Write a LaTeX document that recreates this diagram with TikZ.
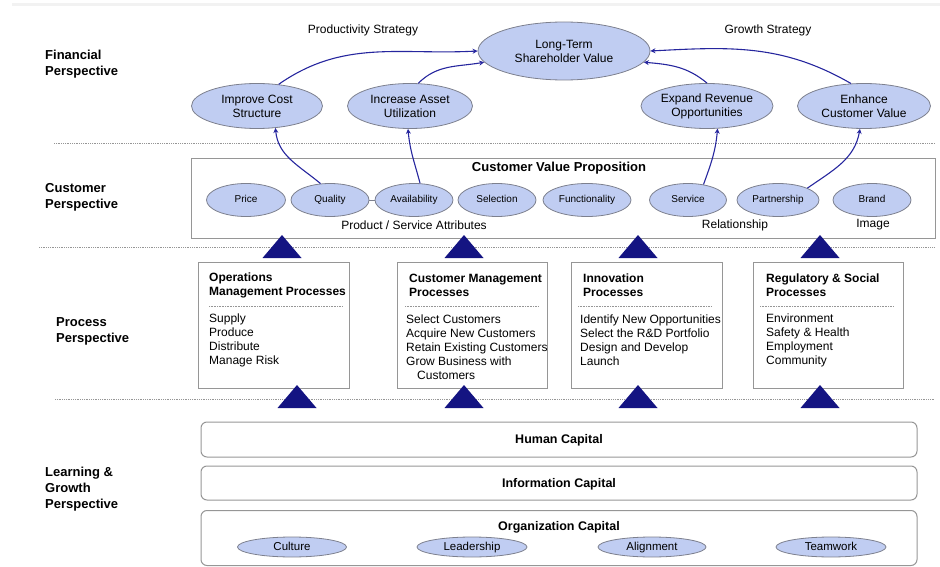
\documentclass[tikz,border=0pt]{standalone}
\usepackage{fontspec}
\setmainfont{Liberation Sans}
\usetikzlibrary{positioning, arrows.meta, shapes.geometric}
\definecolor{navy}{RGB}{20,20,130}
\definecolor{flowblue}{RGB}{38,38,158}
\definecolor{bubble}{RGB}{192,205,242}
\definecolor{rim}{RGB}{125,128,142}
\definecolor{boxgray}{RGB}{150,150,150}
\tikzset{
    x=1pt, y=-1pt, % one unit per pixel, downwards
    >=Stealth, % small solid arrowheads
    flow/.style={->, flowblue, line width=1.1pt, >={Stealth[length=5pt,width=5pt]}}, % cause-effect links
    goal/.style={ellipse, draw=rim, fill=bubble, line width=0.8pt, inner sep=0pt, align=center, font=\fontsize{12}{14}\selectfont},
    attr/.style={ellipse, draw=rim, fill=bubble, line width=0.8pt, inner sep=0pt, minimum height=33, text height=7.5pt, text depth=2.5pt, font=\fontsize{10}{12}\selectfont},
    asset/.style={ellipse, draw=rim, fill=bubble, line width=0.8pt, inner sep=0pt, minimum width=109, minimum height=20, text height=8.5pt, text depth=2.5pt, font=\fontsize{11.5}{13}\selectfont},
    panel/.style={rectangle, draw=boxgray, line width=1pt, inner sep=0pt},
    capital/.style={panel, rounded corners=6pt, minimum width=716},
    perspective/.style={anchor=west, inner sep=0pt, align=left, font=\bfseries\fontsize{13}{16}\selectfont},
    headline/.style={anchor=west, inner sep=0pt, align=left, font=\bfseries\fontsize{12}{14}\selectfont},
    listing/.style={anchor=west, inner sep=0pt, align=left, font=\fontsize{12}{14}\selectfont},
    plain/.style={inner sep=0pt, font=\fontsize{12}{14}\selectfont},
    sep/.style={boxgray, densely dotted, line width=0.8pt}, % dotted dividers
}
\begin{document}
\begin{tikzpicture}
    \useasboundingbox (0,0) rectangle (940,567);
    \draw[gray!10, line width=3pt] (12,5) -- (940,5);

    % perspective labels
    \node[perspective] (fin) at (45,64.5) {Financial\\Perspective};
    \node[perspective] (cus) at (45,197.5) {Customer\\Perspective};
    \node[perspective] (pro) at (56,331) {Process\\Perspective};
    \node[perspective] (lrn) at (45,489.5) {Learning \&\\Growth\\Perspective};

    % dividers
    \draw[sep] (54,143) -- (935,143);
    \draw[sep] (39,247) -- (935,247);
    \draw[sep] (55,399) -- (935,399);

    % financial goals
    \node[plain] (prod) at (363,30) {Productivity Strategy};
    \node[plain] (grow) at (768,30) {Growth Strategy};
    \node[goal, minimum width=172, minimum height=58] (ltv) at (564,51) {Long-Term\\Shareholder Value};
    \node[goal, minimum width=131, minimum height=45] (cost) at (257,106) {Improve Cost\\Structure};
    \node[goal, minimum width=125, minimum height=45] (util) at (410,106) {Increase Asset\\Utilization};
    \node[goal, minimum width=132, minimum height=45] (rev) at (707,106) {Expand Revenue\\Opportunities};
    \node[goal, minimum width=133, minimum height=45] (cval) at (864,106) {Enhance\\Customer Value};

    % customer value proposition
    \node[panel, minimum width=744, minimum height=79] (cvp) at (563,198.5) {};
    \node[plain, font=\bfseries\fontsize{13}{15}\selectfont] (cvptitle) at (559,168) {Customer Value Proposition};
    \node[attr, minimum width=79] (price) at (246,200) {Price};
    \node[attr, minimum width=78] (quality) at (330,200) {Quality};
    \node[attr, minimum width=78] (avail) at (414,200) {Availability};
    \node[attr, minimum width=78] (select) at (497,200) {Selection};
    \node[attr, minimum width=88] (funct) at (587,200) {Functionality};
    \node[attr, minimum width=77] (service) at (688,200) {Service};
    \node[attr, minimum width=82] (partner) at (778,200) {Partnership};
    \node[attr, minimum width=78] (brand) at (872,200) {Brand};
    \draw[rim, line width=0.8pt] (quality) -- (avail);
    \node[plain] (psa) at (414,225) {Product / Service Attributes};
    \node[plain] (rel) at (735,225) {Relationship};
    \node[plain] (img) at (873,225) {Image};

    \path[flow]
        (quality.120) edge[out=140, in=-85] (cost.-50)
        (avail.70) edge[out=105, in=-85] (util.-95)
        (service.45) edge[out=70, in=-95] (rev.-65)
        (partner.22) edge[out=35, in=-100] (cval.-100)
        (cost.45) edge[out=35, in=183] (ltv.180)
        (util.70) edge[out=45, in=190] (ltv.188)
        (rev.north) edge[out=140, in=-5] (ltv.352)
        (cval.120) edge[out=150, in=3] (ltv.0);

    % process boxes
    \node[panel, minimum width=151, minimum height=126] (ops) at (273.5,325) {};
    \node[panel, minimum width=150, minimum height=126] (cmp) at (472,325) {};
    \node[panel, minimum width=151, minimum height=126] (inn) at (646.5,325) {};
    \node[panel, minimum width=150, minimum height=126] (reg) at (828,325) {};

    \node[headline] (opshead) at (209,285) {Operations\\Management Processes};
    \node[headline] (cmphead) at (409,285) {Customer Management\\Processes};
    \node[headline] (innhead) at (583,285) {Innovation\\Processes};
    \node[headline] (reghead) at (766,285) {Regulatory \& Social\\Processes};

    \draw[sep, line width=0.6pt] (209,306) -- (342,306);
    \draw[sep, line width=0.6pt] (405,306) -- (538,306);
    \draw[sep, line width=0.6pt] (578,306) -- (712,306);
    \draw[sep, line width=0.6pt] (760,306) -- (893,306);

    \node[listing] (opslist) at (209,340) {Supply\\Produce\\Distribute\\Manage Risk};
    \node[listing] (cmplist) at (406,347) {Select Customers\\Acquire New Customers\\Retain Existing Customers\\Grow Business with\\\hspace*{11pt}Customers};
    \node[listing] (innlist) at (580,340.5) {Identify New Opportunities\\Select the R\&D Portfolio\\Design and Develop\\Launch};
    \node[listing] (reglist) at (766,340) {Environment\\Safety \& Health\\Employment\\Community};

    % support triangles
    \fill[navy] (282,235) -- ++(19.5,23) -- ++(-39,0) -- cycle;
    \fill[navy] (464,235) -- ++(19.5,23) -- ++(-39,0) -- cycle;
    \fill[navy] (638,235) -- ++(19.5,23) -- ++(-39,0) -- cycle;
    \fill[navy] (820,235) -- ++(19.5,23) -- ++(-39,0) -- cycle;
    \fill[navy] (297,385) -- ++(19.5,23) -- ++(-39,0) -- cycle;
    \fill[navy] (464,385) -- ++(19.5,23) -- ++(-39,0) -- cycle;
    \fill[navy] (638,385) -- ++(19.5,23) -- ++(-39,0) -- cycle;
    \fill[navy] (820,385) -- ++(19.5,23) -- ++(-39,0) -- cycle;

    % learning and growth
    \node[capital, minimum height=35] (human) at (559,439.5) {};
    \node[capital, minimum height=34] (info) at (559,483) {};
    \node[capital, minimum height=55] (org) at (559,538) {};
    \node[plain, font=\bfseries\fontsize{12.5}{14}\selectfont] (humant) at (559,440) {Human Capital};
    \node[plain, font=\bfseries\fontsize{12.5}{14}\selectfont] (infot) at (559,484) {Information Capital};
    \node[plain, font=\bfseries\fontsize{12.5}{14}\selectfont] (orgt) at (559,527) {Organization Capital};
    \node[asset] (culture) at (292,547) {Culture};
    \node[asset, minimum width=110] (leader) at (472,547) {Leadership};
    \node[asset, minimum width=108] (align) at (652,547) {Alignment};
    \node[asset, minimum width=110] (team) at (831,547) {Teamwork};
\end{tikzpicture}
\end{document}
